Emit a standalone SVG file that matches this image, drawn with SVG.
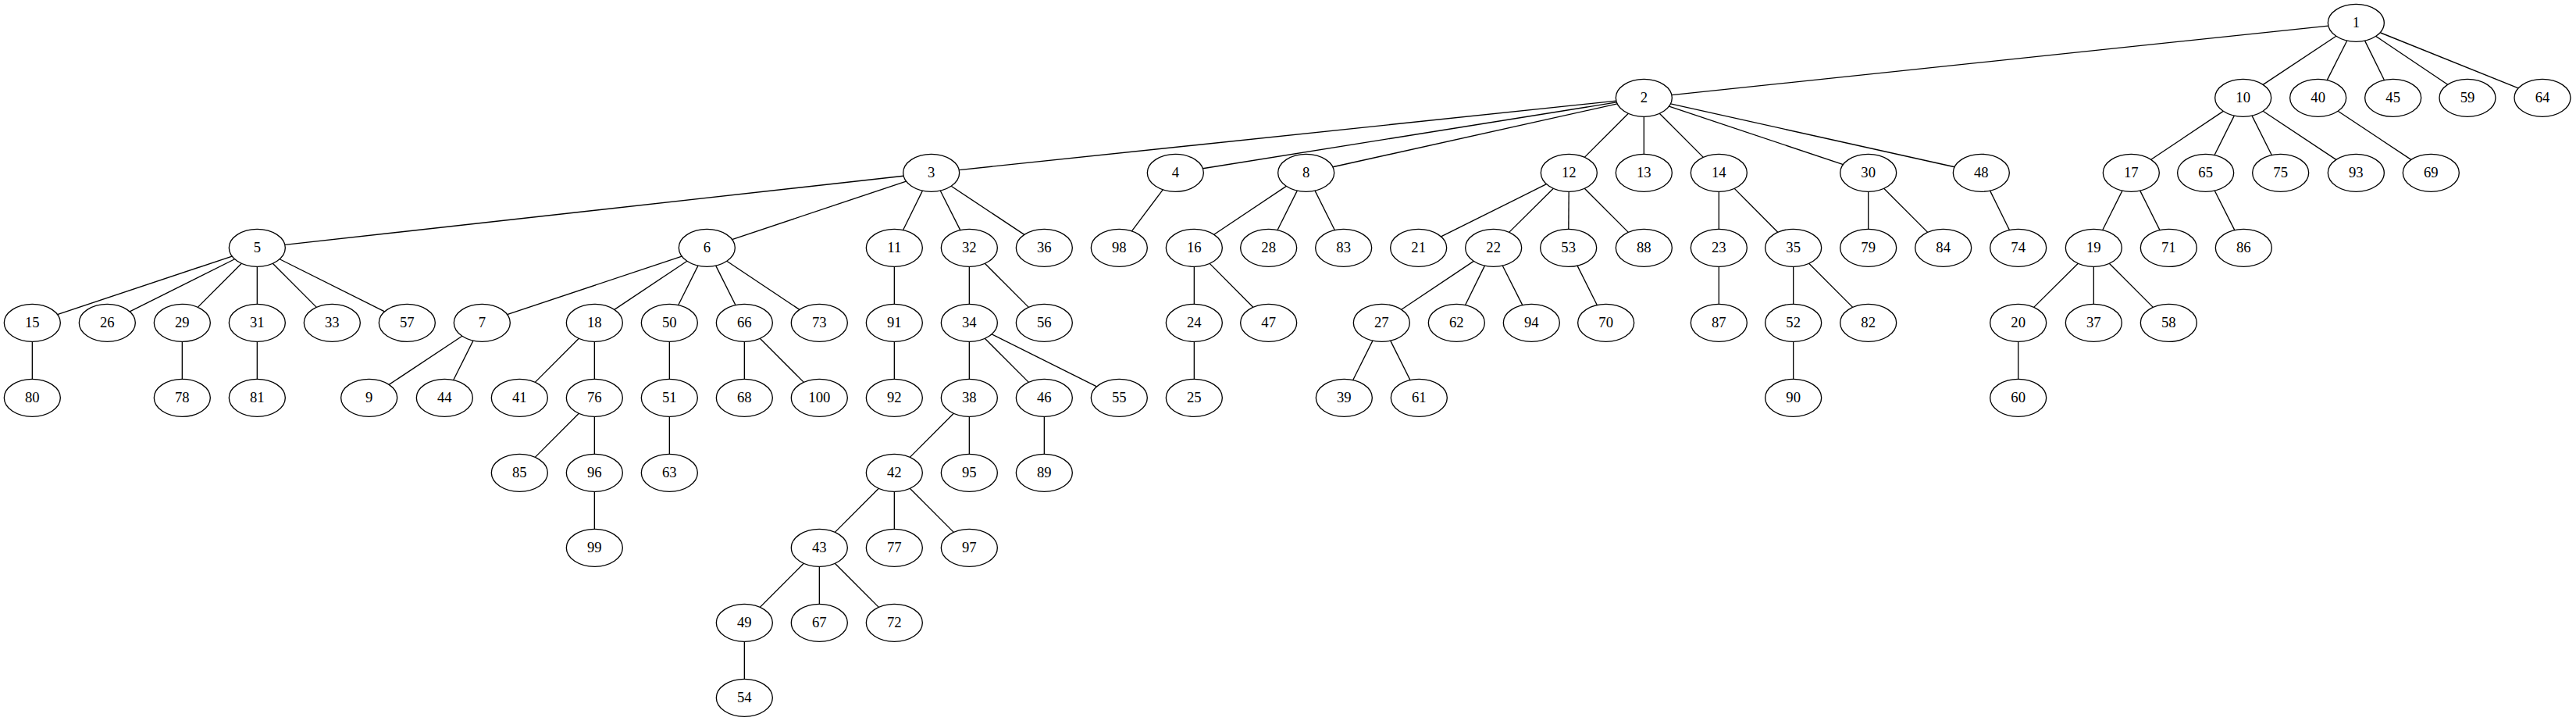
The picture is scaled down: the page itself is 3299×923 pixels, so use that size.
<svg xmlns="http://www.w3.org/2000/svg" width="3299" height="923" viewBox="0 0 3299 923">
<style>
.n ellipse{fill:none;stroke:#000;stroke-width:1}
.n text{font-family:"Liberation Serif","Times New Roman",serif;font-size:14px;text-anchor:middle;fill:#000}
#edges line{stroke:#000;stroke-width:1;fill:none}
</style>
<rect width="3299" height="923" fill="#fff"/>
<g transform="scale(1.333333)">
<g id="edges">
<line x1="2236.33" y1="24.81" x2="1605.67" y2="91.19"/>
<line x1="2243.86" y1="34.70" x2="2173.64" y2="81.30"/>
<line x1="2254.35" y1="39.05" x2="2235.15" y2="76.95"/>
<line x1="2271.43" y1="39.10" x2="2290.07" y2="76.90"/>
<line x1="2282.00" y1="34.79" x2="2351.00" y2="81.21"/>
<line x1="2286.12" y1="31.30" x2="2418.88" y2="84.70"/>
<line x1="1552.33" y1="96.81" x2="921.17" y2="163.19"/>
<line x1="1552.75" y1="98.20" x2="1155.25" y2="161.80"/>
<line x1="1553.38" y1="99.68" x2="1280.12" y2="160.32"/>
<line x1="1564.02" y1="108.98" x2="1521.98" y2="151.02"/>
<line x1="1579" y1="112" x2="1579" y2="148"/>
<line x1="1593.98" y1="108.98" x2="1636.02" y2="151.02"/>
<line x1="1603.14" y1="102.07" x2="1770.36" y2="157.93"/>
<line x1="1604.62" y1="99.69" x2="1877.38" y2="160.31"/>
<line x1="2135.45" y1="106.76" x2="2066.05" y2="153.24"/>
<line x1="2145.96" y1="111.08" x2="2127.04" y2="148.92"/>
<line x1="2163.04" y1="111.08" x2="2181.96" y2="148.92"/>
<line x1="2173.64" y1="106.70" x2="2243.86" y2="153.30"/>
<line x1="2245.64" y1="106.70" x2="2315.86" y2="153.30"/>
<line x1="867.87" y1="168.96" x2="273.63" y2="235.04"/>
<line x1="870.36" y1="174.07" x2="703.14" y2="229.93"/>
<line x1="886.07" y1="183.10" x2="867.43" y2="220.90"/>
<line x1="903.15" y1="183.05" x2="922.35" y2="220.95"/>
<line x1="913.64" y1="178.70" x2="983.86" y2="225.30"/>
<line x1="1116.93" y1="182.10" x2="1087.07" y2="221.90"/>
<line x1="1235.45" y1="178.76" x2="1166.05" y2="225.24"/>
<line x1="1245.96" y1="183.08" x2="1227.04" y2="220.92"/>
<line x1="1263.04" y1="183.08" x2="1281.96" y2="220.92"/>
<line x1="1485.37" y1="176.78" x2="1384.13" y2="227.22"/>
<line x1="1492.00" y1="180.95" x2="1449.50" y2="223.05"/>
<line x1="1506.88" y1="184" x2="1506.62" y2="220"/>
<line x1="1521.98" y1="180.98" x2="1564.02" y2="223.02"/>
<line x1="1651" y1="184" x2="1651" y2="220"/>
<line x1="1665.93" y1="181.03" x2="1707.57" y2="222.97"/>
<line x1="1794.5" y1="184" x2="1794.5" y2="220"/>
<line x1="1809.48" y1="180.98" x2="1851.52" y2="223.02"/>
<line x1="1911.43" y1="183.10" x2="1930.07" y2="220.90"/>
<line x1="2038.46" y1="183.08" x2="2019.54" y2="220.92"/>
<line x1="2055.54" y1="183.08" x2="2074.46" y2="220.92"/>
<line x1="2127.15" y1="183.05" x2="2146.35" y2="220.95"/>
<line x1="222.85" y1="246.05" x2="55.15" y2="301.95"/>
<line x1="225.38" y1="248.81" x2="124.62" y2="299.19"/>
<line x1="232.02" y1="252.98" x2="189.98" y2="295.02"/>
<line x1="247" y1="256" x2="247" y2="292"/>
<line x1="261.98" y1="252.98" x2="304.02" y2="295.02"/>
<line x1="268.62" y1="248.81" x2="369.38" y2="299.19"/>
<line x1="654.85" y1="246.05" x2="487.15" y2="301.95"/>
<line x1="659.90" y1="250.73" x2="590.10" y2="297.27"/>
<line x1="670.46" y1="255.08" x2="651.54" y2="292.92"/>
<line x1="687.54" y1="255.08" x2="706.46" y2="292.92"/>
<line x1="698.10" y1="250.73" x2="767.90" y2="297.27"/>
<line x1="859" y1="256" x2="859" y2="292"/>
<line x1="931" y1="256" x2="931" y2="292"/>
<line x1="945.98" y1="252.98" x2="988.02" y2="295.02"/>
<line x1="1147" y1="256" x2="1147" y2="292"/>
<line x1="1161.93" y1="253.03" x2="1203.57" y2="294.97"/>
<line x1="1415.45" y1="250.76" x2="1346.05" y2="297.24"/>
<line x1="1426.07" y1="255.10" x2="1407.43" y2="292.90"/>
<line x1="1443.15" y1="255.05" x2="1462.35" y2="292.95"/>
<line x1="1515.04" y1="255.08" x2="1533.96" y2="292.92"/>
<line x1="1651" y1="256" x2="1651" y2="292"/>
<line x1="1722.5" y1="256" x2="1722.5" y2="292"/>
<line x1="1737.48" y1="252.98" x2="1779.52" y2="295.02"/>
<line x1="1996.00" y1="252.95" x2="1953.50" y2="295.05"/>
<line x1="2011" y1="256" x2="2011" y2="292"/>
<line x1="2025.98" y1="252.98" x2="2068.02" y2="295.02"/>
<line x1="31" y1="328" x2="31" y2="364"/>
<line x1="175" y1="328" x2="175" y2="364"/>
<line x1="247" y1="328" x2="247" y2="364"/>
<line x1="443.86" y1="322.70" x2="373.64" y2="369.30"/>
<line x1="454.46" y1="327.08" x2="435.54" y2="364.92"/>
<line x1="556.02" y1="324.98" x2="513.98" y2="367.02"/>
<line x1="571" y1="328" x2="571" y2="364"/>
<line x1="643" y1="328" x2="643" y2="364"/>
<line x1="715" y1="328" x2="715" y2="364"/>
<line x1="729.98" y1="324.98" x2="772.02" y2="367.02"/>
<line x1="859" y1="328" x2="859" y2="364"/>
<line x1="931" y1="328" x2="931" y2="364"/>
<line x1="945.98" y1="324.98" x2="988.02" y2="367.02"/>
<line x1="952.62" y1="320.81" x2="1053.38" y2="371.19"/>
<line x1="1147" y1="328" x2="1147" y2="364"/>
<line x1="1318.46" y1="327.08" x2="1299.54" y2="364.92"/>
<line x1="1335.54" y1="327.08" x2="1354.46" y2="364.92"/>
<line x1="1722.5" y1="328" x2="1722.5" y2="364"/>
<line x1="1938.5" y1="328" x2="1938.5" y2="364"/>
<line x1="556.02" y1="396.98" x2="513.98" y2="439.02"/>
<line x1="571" y1="400" x2="571" y2="436"/>
<line x1="643" y1="400" x2="643" y2="436"/>
<line x1="916.02" y1="396.98" x2="873.98" y2="439.02"/>
<line x1="931" y1="400" x2="931" y2="436"/>
<line x1="1003" y1="400" x2="1003" y2="436"/>
<line x1="571" y1="472" x2="571" y2="508"/>
<line x1="844.02" y1="468.98" x2="801.98" y2="511.02"/>
<line x1="859" y1="472" x2="859" y2="508"/>
<line x1="873.98" y1="468.98" x2="916.02" y2="511.02"/>
<line x1="772.02" y1="540.98" x2="729.98" y2="583.02"/>
<line x1="787" y1="544" x2="787" y2="580"/>
<line x1="801.98" y1="540.98" x2="844.02" y2="583.02"/>
<line x1="715" y1="616" x2="715" y2="652"/>
</g>
<g id="n1" class="n"><ellipse cx="2263" cy="22" rx="27" ry="18"/><text x="2263" y="26.2">1</text></g>
<g id="n2" class="n"><ellipse cx="1579" cy="94" rx="27" ry="18"/><text x="1579" y="98.2">2</text></g>
<g id="n10" class="n"><ellipse cx="2154.5" cy="94" rx="27" ry="18"/><text x="2154.5" y="98.2">10</text></g>
<g id="n40" class="n"><ellipse cx="2226.5" cy="94" rx="27" ry="18"/><text x="2226.5" y="98.2">40</text></g>
<g id="n45" class="n"><ellipse cx="2298.5" cy="94" rx="27" ry="18"/><text x="2298.5" y="98.2">45</text></g>
<g id="n59" class="n"><ellipse cx="2370" cy="94" rx="27" ry="18"/><text x="2370" y="98.2">59</text></g>
<g id="n64" class="n"><ellipse cx="2442" cy="94" rx="27" ry="18"/><text x="2442" y="98.2">64</text></g>
<g id="n3" class="n"><ellipse cx="894.5" cy="166" rx="27" ry="18"/><text x="894.5" y="170.2">3</text></g>
<g id="n4" class="n"><ellipse cx="1129" cy="166" rx="27" ry="18"/><text x="1129" y="170.2">4</text></g>
<g id="n8" class="n"><ellipse cx="1254.5" cy="166" rx="27" ry="18"/><text x="1254.5" y="170.2">8</text></g>
<g id="n12" class="n"><ellipse cx="1507" cy="166" rx="27" ry="18"/><text x="1507" y="170.2">12</text></g>
<g id="n13" class="n"><ellipse cx="1579" cy="166" rx="27" ry="18"/><text x="1579" y="170.2">13</text></g>
<g id="n14" class="n"><ellipse cx="1651" cy="166" rx="27" ry="18"/><text x="1651" y="170.2">14</text></g>
<g id="n30" class="n"><ellipse cx="1794.5" cy="166" rx="27" ry="18"/><text x="1794.5" y="170.2">30</text></g>
<g id="n48" class="n"><ellipse cx="1903" cy="166" rx="27" ry="18"/><text x="1903" y="170.2">48</text></g>
<g id="n17" class="n"><ellipse cx="2047" cy="166" rx="27" ry="18"/><text x="2047" y="170.2">17</text></g>
<g id="n65" class="n"><ellipse cx="2118.5" cy="166" rx="27" ry="18"/><text x="2118.5" y="170.2">65</text></g>
<g id="n75" class="n"><ellipse cx="2190.5" cy="166" rx="27" ry="18"/><text x="2190.5" y="170.2">75</text></g>
<g id="n93" class="n"><ellipse cx="2263" cy="166" rx="27" ry="18"/><text x="2263" y="170.2">93</text></g>
<g id="n69" class="n"><ellipse cx="2335" cy="166" rx="27" ry="18"/><text x="2335" y="170.2">69</text></g>
<g id="n5" class="n"><ellipse cx="247" cy="238" rx="27" ry="18"/><text x="247" y="242.2">5</text></g>
<g id="n6" class="n"><ellipse cx="679" cy="238" rx="27" ry="18"/><text x="679" y="242.2">6</text></g>
<g id="n11" class="n"><ellipse cx="859" cy="238" rx="27" ry="18"/><text x="859" y="242.2">11</text></g>
<g id="n32" class="n"><ellipse cx="931" cy="238" rx="27" ry="18"/><text x="931" y="242.2">32</text></g>
<g id="n36" class="n"><ellipse cx="1003" cy="238" rx="27" ry="18"/><text x="1003" y="242.2">36</text></g>
<g id="n98" class="n"><ellipse cx="1075" cy="238" rx="27" ry="18"/><text x="1075" y="242.2">98</text></g>
<g id="n16" class="n"><ellipse cx="1147" cy="238" rx="27" ry="18"/><text x="1147" y="242.2">16</text></g>
<g id="n28" class="n"><ellipse cx="1218.5" cy="238" rx="27" ry="18"/><text x="1218.5" y="242.2">28</text></g>
<g id="n83" class="n"><ellipse cx="1290.5" cy="238" rx="27" ry="18"/><text x="1290.5" y="242.2">83</text></g>
<g id="n21" class="n"><ellipse cx="1362.5" cy="238" rx="27" ry="18"/><text x="1362.5" y="242.2">21</text></g>
<g id="n22" class="n"><ellipse cx="1434.5" cy="238" rx="27" ry="18"/><text x="1434.5" y="242.2">22</text></g>
<g id="n53" class="n"><ellipse cx="1506.5" cy="238" rx="27" ry="18"/><text x="1506.5" y="242.2">53</text></g>
<g id="n88" class="n"><ellipse cx="1579" cy="238" rx="27" ry="18"/><text x="1579" y="242.2">88</text></g>
<g id="n23" class="n"><ellipse cx="1651" cy="238" rx="27" ry="18"/><text x="1651" y="242.2">23</text></g>
<g id="n35" class="n"><ellipse cx="1722.5" cy="238" rx="27" ry="18"/><text x="1722.5" y="242.2">35</text></g>
<g id="n79" class="n"><ellipse cx="1794.5" cy="238" rx="27" ry="18"/><text x="1794.5" y="242.2">79</text></g>
<g id="n84" class="n"><ellipse cx="1866.5" cy="238" rx="27" ry="18"/><text x="1866.5" y="242.2">84</text></g>
<g id="n74" class="n"><ellipse cx="1938.5" cy="238" rx="27" ry="18"/><text x="1938.5" y="242.2">74</text></g>
<g id="n19" class="n"><ellipse cx="2011" cy="238" rx="27" ry="18"/><text x="2011" y="242.2">19</text></g>
<g id="n71" class="n"><ellipse cx="2083" cy="238" rx="27" ry="18"/><text x="2083" y="242.2">71</text></g>
<g id="n86" class="n"><ellipse cx="2155" cy="238" rx="27" ry="18"/><text x="2155" y="242.2">86</text></g>
<g id="n15" class="n"><ellipse cx="31" cy="310" rx="27" ry="18"/><text x="31" y="314.2">15</text></g>
<g id="n26" class="n"><ellipse cx="103" cy="310" rx="27" ry="18"/><text x="103" y="314.2">26</text></g>
<g id="n29" class="n"><ellipse cx="175" cy="310" rx="27" ry="18"/><text x="175" y="314.2">29</text></g>
<g id="n31" class="n"><ellipse cx="247" cy="310" rx="27" ry="18"/><text x="247" y="314.2">31</text></g>
<g id="n33" class="n"><ellipse cx="319" cy="310" rx="27" ry="18"/><text x="319" y="314.2">33</text></g>
<g id="n57" class="n"><ellipse cx="391" cy="310" rx="27" ry="18"/><text x="391" y="314.2">57</text></g>
<g id="n7" class="n"><ellipse cx="463" cy="310" rx="27" ry="18"/><text x="463" y="314.2">7</text></g>
<g id="n18" class="n"><ellipse cx="571" cy="310" rx="27" ry="18"/><text x="571" y="314.2">18</text></g>
<g id="n50" class="n"><ellipse cx="643" cy="310" rx="27" ry="18"/><text x="643" y="314.2">50</text></g>
<g id="n66" class="n"><ellipse cx="715" cy="310" rx="27" ry="18"/><text x="715" y="314.2">66</text></g>
<g id="n73" class="n"><ellipse cx="787" cy="310" rx="27" ry="18"/><text x="787" y="314.2">73</text></g>
<g id="n91" class="n"><ellipse cx="859" cy="310" rx="27" ry="18"/><text x="859" y="314.2">91</text></g>
<g id="n34" class="n"><ellipse cx="931" cy="310" rx="27" ry="18"/><text x="931" y="314.2">34</text></g>
<g id="n56" class="n"><ellipse cx="1003" cy="310" rx="27" ry="18"/><text x="1003" y="314.2">56</text></g>
<g id="n24" class="n"><ellipse cx="1147" cy="310" rx="27" ry="18"/><text x="1147" y="314.2">24</text></g>
<g id="n47" class="n"><ellipse cx="1218.5" cy="310" rx="27" ry="18"/><text x="1218.5" y="314.2">47</text></g>
<g id="n27" class="n"><ellipse cx="1327" cy="310" rx="27" ry="18"/><text x="1327" y="314.2">27</text></g>
<g id="n62" class="n"><ellipse cx="1399" cy="310" rx="27" ry="18"/><text x="1399" y="314.2">62</text></g>
<g id="n94" class="n"><ellipse cx="1471" cy="310" rx="27" ry="18"/><text x="1471" y="314.2">94</text></g>
<g id="n70" class="n"><ellipse cx="1542.5" cy="310" rx="27" ry="18"/><text x="1542.5" y="314.2">70</text></g>
<g id="n87" class="n"><ellipse cx="1651" cy="310" rx="27" ry="18"/><text x="1651" y="314.2">87</text></g>
<g id="n52" class="n"><ellipse cx="1722.5" cy="310" rx="27" ry="18"/><text x="1722.5" y="314.2">52</text></g>
<g id="n82" class="n"><ellipse cx="1794.5" cy="310" rx="27" ry="18"/><text x="1794.5" y="314.2">82</text></g>
<g id="n20" class="n"><ellipse cx="1938.5" cy="310" rx="27" ry="18"/><text x="1938.5" y="314.2">20</text></g>
<g id="n37" class="n"><ellipse cx="2011" cy="310" rx="27" ry="18"/><text x="2011" y="314.2">37</text></g>
<g id="n58" class="n"><ellipse cx="2083" cy="310" rx="27" ry="18"/><text x="2083" y="314.2">58</text></g>
<g id="n80" class="n"><ellipse cx="31" cy="382" rx="27" ry="18"/><text x="31" y="386.2">80</text></g>
<g id="n78" class="n"><ellipse cx="175" cy="382" rx="27" ry="18"/><text x="175" y="386.2">78</text></g>
<g id="n81" class="n"><ellipse cx="247" cy="382" rx="27" ry="18"/><text x="247" y="386.2">81</text></g>
<g id="n9" class="n"><ellipse cx="354.5" cy="382" rx="27" ry="18"/><text x="354.5" y="386.2">9</text></g>
<g id="n44" class="n"><ellipse cx="427" cy="382" rx="27" ry="18"/><text x="427" y="386.2">44</text></g>
<g id="n41" class="n"><ellipse cx="499" cy="382" rx="27" ry="18"/><text x="499" y="386.2">41</text></g>
<g id="n76" class="n"><ellipse cx="571" cy="382" rx="27" ry="18"/><text x="571" y="386.2">76</text></g>
<g id="n51" class="n"><ellipse cx="643" cy="382" rx="27" ry="18"/><text x="643" y="386.2">51</text></g>
<g id="n68" class="n"><ellipse cx="715" cy="382" rx="27" ry="18"/><text x="715" y="386.2">68</text></g>
<g id="n100" class="n"><ellipse cx="787" cy="382" rx="27" ry="18"/><text x="787" y="386.2">100</text></g>
<g id="n92" class="n"><ellipse cx="859" cy="382" rx="27" ry="18"/><text x="859" y="386.2">92</text></g>
<g id="n38" class="n"><ellipse cx="931" cy="382" rx="27" ry="18"/><text x="931" y="386.2">38</text></g>
<g id="n46" class="n"><ellipse cx="1003" cy="382" rx="27" ry="18"/><text x="1003" y="386.2">46</text></g>
<g id="n55" class="n"><ellipse cx="1075" cy="382" rx="27" ry="18"/><text x="1075" y="386.2">55</text></g>
<g id="n25" class="n"><ellipse cx="1147" cy="382" rx="27" ry="18"/><text x="1147" y="386.2">25</text></g>
<g id="n39" class="n"><ellipse cx="1291" cy="382" rx="27" ry="18"/><text x="1291" y="386.2">39</text></g>
<g id="n61" class="n"><ellipse cx="1363" cy="382" rx="27" ry="18"/><text x="1363" y="386.2">61</text></g>
<g id="n90" class="n"><ellipse cx="1722.5" cy="382" rx="27" ry="18"/><text x="1722.5" y="386.2">90</text></g>
<g id="n60" class="n"><ellipse cx="1938.5" cy="382" rx="27" ry="18"/><text x="1938.5" y="386.2">60</text></g>
<g id="n85" class="n"><ellipse cx="499" cy="454" rx="27" ry="18"/><text x="499" y="458.2">85</text></g>
<g id="n96" class="n"><ellipse cx="571" cy="454" rx="27" ry="18"/><text x="571" y="458.2">96</text></g>
<g id="n63" class="n"><ellipse cx="643" cy="454" rx="27" ry="18"/><text x="643" y="458.2">63</text></g>
<g id="n42" class="n"><ellipse cx="859" cy="454" rx="27" ry="18"/><text x="859" y="458.2">42</text></g>
<g id="n95" class="n"><ellipse cx="931" cy="454" rx="27" ry="18"/><text x="931" y="458.2">95</text></g>
<g id="n89" class="n"><ellipse cx="1003" cy="454" rx="27" ry="18"/><text x="1003" y="458.2">89</text></g>
<g id="n99" class="n"><ellipse cx="571" cy="526" rx="27" ry="18"/><text x="571" y="530.2">99</text></g>
<g id="n43" class="n"><ellipse cx="787" cy="526" rx="27" ry="18"/><text x="787" y="530.2">43</text></g>
<g id="n77" class="n"><ellipse cx="859" cy="526" rx="27" ry="18"/><text x="859" y="530.2">77</text></g>
<g id="n97" class="n"><ellipse cx="931" cy="526" rx="27" ry="18"/><text x="931" y="530.2">97</text></g>
<g id="n49" class="n"><ellipse cx="715" cy="598" rx="27" ry="18"/><text x="715" y="602.2">49</text></g>
<g id="n67" class="n"><ellipse cx="787" cy="598" rx="27" ry="18"/><text x="787" y="602.2">67</text></g>
<g id="n72" class="n"><ellipse cx="859" cy="598" rx="27" ry="18"/><text x="859" y="602.2">72</text></g>
<g id="n54" class="n"><ellipse cx="715" cy="670" rx="27" ry="18"/><text x="715" y="674.2">54</text></g>
</g>
</svg>
